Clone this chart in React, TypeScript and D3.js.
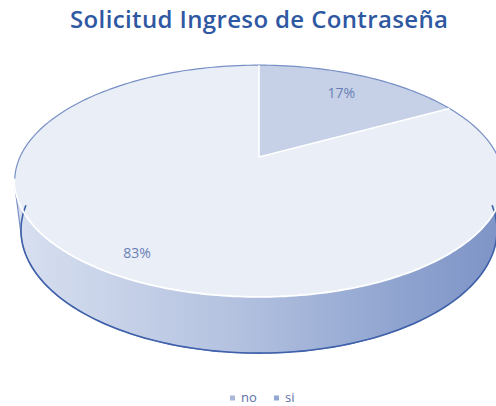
import React from "react";
import * as d3 from "d3";

const categories = ["no", "si"];
const values = [83, 17];
const labels = ["83%", "17%"];
const title = "Solicitud Ingreso de Contraseña";

const W = 496;
const H = 406;
const CX = 259;
const CY = 157;
const S = 239;
const sinE = 0.464;
const cosE = Math.sqrt(1 - sinE * sinE);
const K = 0.234;
const T = 0.234;

const topColors = ["#e9eef7", "#c6d1e7"];
const labelRadius = [0.85, 0.77];

function proj(phi: number, r: number, Y: number): [number, number] {
  const X = r * Math.sin(phi);
  const Z = r * Math.cos(phi);
  const yc = Y * cosE + Z * sinE;
  const dc = Z * cosE - Y * sinE;
  const w = 1 + K * dc;
  return [CX + (S * X) / w, CY - (S * yc) / w];
}

function arcPoints(a0: number, a1: number, Y: number, n = 120): [number, number][] {
  const pts: [number, number][] = [];
  for (let i = 0; i <= n; i++) {
    const a = a0 + ((a1 - a0) * i) / n;
    pts.push(proj(a, 1, Y));
  }
  return pts;
}

export default function App() {
  const total = d3.sum(values);
  const start = (2 * Math.PI * values[1]) / total;
  const pie = d3
    .pie<number>()
    .sort(null)
    .startAngle(start)
    .endAngle(start + 2 * Math.PI);
  const arcs = pie(values);

  const line = d3.line();
  const allPts: [number, number][] = [
    ...arcPoints(0, 2 * Math.PI, 0, 240),
    ...arcPoints(0, 2 * Math.PI, -T, 240),
  ];
  const hull = d3.polygonHull(allPts) as [number, number][];
  const hullPath = line(hull) + "Z";

  const slicePaths = arcs.map((a) => {
    const c = proj(0, 0, 0);
    const pts = [c, ...arcPoints(a.startAngle, a.endAngle, 0, 200)];
    return line(pts) + "Z";
  });

  const frontTop = line(arcPoints(Math.PI * 0.56, Math.PI * 1.44, 0, 160));
  const frontBottom = line(arcPoints(Math.PI * 0.5, Math.PI * 1.5, -T, 160));
  const sepLines = arcs.map((a) => line([proj(0, 0, 0), proj(a.startAngle, 1, 0)]));

  return (
    <svg
      width={W}
      height={H}
      style={{ position: "absolute", left: 0, top: 0, background: "#fff" }}
    >
      <defs>
        <linearGradient id="side" gradientUnits="userSpaceOnUse" x1={14} y1={0} x2={500} y2={0}>
          <stop offset="0" stopColor="#d8e0f0" />
          <stop offset="0.45" stopColor="#b4c2e0" />
          <stop offset="0.8" stopColor="#8ea3cf" />
          <stop offset="1" stopColor="#7e94c6" />
        </linearGradient>
      </defs>
      <text
        x={259}
        y={28}
        textAnchor="middle"
        fontFamily="Open Sans, sans-serif"
        fontWeight={600}
        fontSize={24}
        textLength={378}
        lengthAdjust="spacing"
        fill="#2f58a2"
      >
        {title}
      </text>
      <path d={hullPath} fill="url(#side)" />
      {slicePaths.map((d, i) => (
        <path key={categories[i]} d={d} fill={topColors[i]} />
      ))}
      <path d={hullPath} fill="none" stroke="#7890c6" strokeWidth={1.2} />
      <path d={frontBottom || ""} fill="none" stroke="#3f61aa" strokeWidth={1.6} />
      <path d={frontTop || ""} fill="none" stroke="#ffffff" strokeWidth={1.8} />
      {sepLines.map((d, i) => (
        <path key={"s" + i} d={d || ""} stroke="#ffffff" strokeWidth={1.6} fill="none" />
      ))}
      {arcs.map((a, i) => {
        const mid = (a.startAngle + a.endAngle) / 2;
        const [x, y] = proj(mid, labelRadius[i], 0);
        return (
          <text
            key={"l" + i}
            x={x}
            y={y}
            textAnchor="middle"
            dominantBaseline="central"
            fontFamily="Open Sans, sans-serif"
            fontSize={14}
            fill="#6a80b6"
          >
            {labels[i]}
          </text>
        );
      })}
      <g fontFamily="Open Sans, sans-serif" fontSize={13} fill="#5b70aa">
        <rect x={230} y={395.5} width={5} height={5} fill="#a9b8da" />
        <text x={241} y={402}>{categories[0]}</text>
        <rect x={274} y={395.5} width={5} height={5} fill="#94a7d2" />
        <text x={285} y={402}>{categories[1]}</text>
      </g>
    </svg>
  );
}
